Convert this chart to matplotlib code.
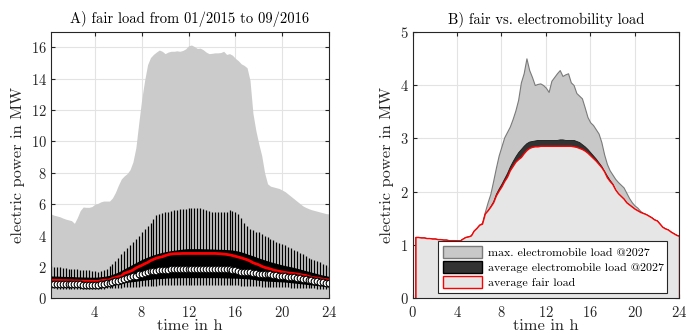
'''
    Fair load (boxplot over the day) and fair vs. electromobility load.
'''

import numpy as np
import matplotlib
matplotlib.use('Agg')
import matplotlib.pyplot as plt
from matplotlib.patches import Patch

plt.rcParams['font.family'] = ['cmr10', 'DejaVu Serif']
plt.rcParams['mathtext.fontset'] = 'cm'
plt.rcParams['axes.formatter.use_mathtext'] = True

# ============ #
# === Data === #
# ============ #

# time of day in h, 15 min steps (0.25 ... 24)
hours = np.arange(1, 97) * 0.25

# A) statistics of the fair load in MW
load_max = [5.38, 5.30, 5.25, 5.20, 5.12, 5.05, 5.00, 4.95, 4.78, 5.15, 5.60, 5.82,
            5.80, 5.80, 5.85, 6.00, 6.05, 6.15, 6.20, 6.20, 6.20, 6.40, 6.75, 7.20,
            7.60, 7.80, 7.95, 8.20, 8.70, 9.60, 11.20, 12.70, 13.90, 14.90, 15.35, 15.55,
            15.70, 15.83, 15.75, 15.60, 15.70, 15.75, 15.75, 15.78, 15.75, 15.80, 15.90, 16.10,
            16.15, 16.05, 15.93, 15.95, 15.85, 15.70, 15.60, 15.62, 15.65, 15.65, 15.67, 15.75,
            15.55, 15.60, 15.50, 15.30, 15.15, 14.95, 14.85, 14.70, 13.90, 11.80, 10.70, 9.85,
            9.10, 8.00, 7.30, 7.15, 7.10, 7.05, 7.00, 6.90, 6.80, 6.65, 6.50, 6.35,
            6.20, 6.05, 5.90, 5.80, 5.72, 5.65, 5.60, 5.55, 5.50, 5.45, 5.40, 5.38]

whisker_top = [2.05, 2.00, 1.98, 1.97, 1.95, 1.93, 1.90, 1.88, 1.85, 1.85, 1.82, 1.80,
               1.80, 1.78, 1.75, 1.72, 1.70, 1.72, 1.80, 1.90, 2.05, 2.20, 2.40, 2.60,
               2.80, 3.00, 3.20, 3.40, 3.60, 3.80, 4.00, 4.20, 4.40, 4.60, 4.80, 5.05,
               5.30, 5.40, 5.45, 5.50, 5.50, 5.55, 5.60, 5.65, 5.68, 5.70, 5.72, 5.75,
               5.75, 5.78, 5.78, 5.75, 5.72, 5.65, 5.55, 5.50, 5.50, 5.50, 5.52, 5.50,
               5.52, 5.60, 5.55, 5.50, 5.40, 5.10, 4.80, 4.60, 4.45, 4.35, 4.25, 4.20,
               4.10, 4.00, 3.90, 3.80, 3.70, 3.60, 3.50, 3.45, 3.40, 3.30, 3.20, 3.10,
               3.00, 2.90, 2.80, 2.70, 2.60, 2.50, 2.45, 2.40, 2.30, 2.20, 2.10, 2.00]

whisker_bot = [0.63, 0.63, 0.62, 0.62, 0.62, 0.61, 0.61, 0.61, 0.60, 0.60, 0.60, 0.60,
               0.60, 0.60, 0.59, 0.59, 0.60, 0.61, 0.62, 0.63, 0.64, 0.65, 0.66, 0.67,
               0.68, 0.69, 0.70, 0.71, 0.72, 0.74, 0.75, 0.76, 0.78, 0.79, 0.80, 0.80,
               0.81, 0.82, 0.82, 0.83, 0.84, 0.84, 0.85, 0.85, 0.85, 0.85, 0.86, 0.86,
               0.86, 0.86, 0.86, 0.86, 0.86, 0.86, 0.86, 0.85, 0.85, 0.85, 0.85, 0.84,
               0.84, 0.83, 0.83, 0.82, 0.82, 0.81, 0.80, 0.80, 0.79, 0.78, 0.77, 0.76,
               0.75, 0.74, 0.73, 0.72, 0.72, 0.71, 0.70, 0.70, 0.69, 0.69, 0.68, 0.68,
               0.67, 0.66, 0.66, 0.65, 0.64, 0.64, 0.63, 0.62, 0.62, 0.61, 0.60, 0.60]

q3 = [1.36, 1.35, 1.35, 1.34, 1.33, 1.33, 1.32, 1.32, 1.31, 1.30, 1.30, 1.29,
      1.29, 1.28, 1.28, 1.28, 1.29, 1.31, 1.33, 1.36, 1.40, 1.46, 1.53, 1.60,
      1.70, 1.80, 1.90, 2.00, 2.10, 2.20, 2.30, 2.40, 2.48, 2.56, 2.63, 2.70,
      2.76, 2.81, 2.86, 2.90, 2.94, 2.97, 3.00, 3.02, 3.05, 3.07, 3.09, 3.10,
      3.10, 3.10, 3.10, 3.10, 3.09, 3.09, 3.08, 3.08, 3.07, 3.06, 3.06, 3.05,
      3.04, 3.03, 3.01, 2.98, 2.94, 2.89, 2.83, 2.76, 2.70, 2.64, 2.57, 2.50,
      2.44, 2.38, 2.32, 2.26, 2.21, 2.16, 2.11, 2.06, 2.02, 1.98, 1.94, 1.90,
      1.85, 1.80, 1.75, 1.70, 1.65, 1.60, 1.55, 1.50, 1.45, 1.41, 1.37, 1.33]

q1 = [0.82, 0.82, 0.82, 0.81, 0.81, 0.81, 0.81, 0.80, 0.80, 0.80, 0.80, 0.80,
      0.80, 0.80, 0.80, 0.80, 0.81, 0.83, 0.85, 0.88, 0.91, 0.95, 0.98, 1.01,
      1.04, 1.07, 1.09, 1.11, 1.13, 1.15, 1.18, 1.20, 1.23, 1.25, 1.28, 1.30,
      1.31, 1.32, 1.33, 1.35, 1.36, 1.36, 1.37, 1.37, 1.38, 1.38, 1.38, 1.38,
      1.38, 1.38, 1.38, 1.38, 1.38, 1.38, 1.38, 1.38, 1.38, 1.38, 1.37, 1.37,
      1.36, 1.36, 1.35, 1.35, 1.34, 1.33, 1.32, 1.31, 1.29, 1.27, 1.24, 1.21,
      1.19, 1.17, 1.16, 1.15, 1.14, 1.13, 1.12, 1.11, 1.10, 1.08, 1.06, 1.04,
      1.02, 1.00, 0.98, 0.96, 0.94, 0.92, 0.90, 0.88, 0.86, 0.84, 0.81, 0.78]

median = [0.92, 0.91, 0.91, 0.90, 0.90, 0.90, 0.89, 0.89, 0.88, 0.88, 0.88, 0.87,
          0.87, 0.87, 0.86, 0.86, 0.86, 0.88, 0.91, 0.95, 0.99, 1.03, 1.08, 1.12,
          1.17, 1.22, 1.28, 1.35, 1.40, 1.45, 1.52, 1.58, 1.63, 1.68, 1.72, 1.75,
          1.76, 1.78, 1.80, 1.82, 1.83, 1.84, 1.85, 1.85, 1.86, 1.86, 1.87, 1.87,
          1.87, 1.87, 1.87, 1.87, 1.86, 1.86, 1.86, 1.86, 1.87, 1.87, 1.88, 1.88,
          1.90, 1.86, 1.82, 1.78, 1.74, 1.70, 1.69, 1.68, 1.66, 1.62, 1.60, 1.58,
          1.56, 1.54, 1.53, 1.52, 1.50, 1.48, 1.45, 1.42, 1.40, 1.38, 1.36, 1.33,
          1.30, 1.27, 1.25, 1.22, 1.19, 1.16, 1.13, 1.10, 1.06, 1.02, 0.98, 0.95]

# average fair load (also used in B)
fair_avg = [1.15, 1.15, 1.14, 1.14, 1.13, 1.13, 1.12, 1.12, 1.11, 1.11, 1.10, 1.10,
            1.09, 1.09, 1.09, 1.085, 1.085, 1.12, 1.15, 1.16, 1.18, 1.27, 1.32, 1.38,
            1.40, 1.59, 1.65, 1.72, 1.80, 1.93, 2.02, 2.10, 2.20, 2.28, 2.40, 2.48,
            2.56, 2.61, 2.65, 2.72, 2.78, 2.82, 2.84, 2.85, 2.85, 2.86, 2.86, 2.86,
            2.86, 2.86, 2.86, 2.86, 2.86, 2.86, 2.86, 2.86, 2.86, 2.85, 2.84, 2.82,
            2.80, 2.77, 2.73, 2.68, 2.63, 2.58, 2.52, 2.46, 2.38, 2.27, 2.20, 2.14,
            2.04, 1.97, 1.92, 1.87, 1.80, 1.76, 1.72, 1.68, 1.65, 1.62, 1.60, 1.58,
            1.55, 1.52, 1.48, 1.46, 1.40, 1.34, 1.31, 1.29, 1.25, 1.22, 1.19, 1.17]

# B) fair load + average electromobile load @2027
total_avg_ev = [1.15, 1.15, 1.14, 1.14, 1.13, 1.13, 1.12, 1.12, 1.11, 1.11, 1.10, 1.10,
                1.09, 1.09, 1.09, 1.085, 1.085, 1.12, 1.15, 1.16, 1.18, 1.27, 1.32, 1.38,
                1.40, 1.59, 1.65, 1.73, 1.82, 1.96, 2.06, 2.15, 2.25, 2.35, 2.47, 2.57,
                2.66, 2.74, 2.80, 2.86, 2.91, 2.94, 2.95, 2.96, 2.97, 2.97, 2.97, 2.97,
                2.97, 2.97, 2.97, 2.97, 2.98, 2.98, 2.97, 2.97, 2.97, 2.97, 2.95, 2.93,
                2.89, 2.85, 2.80, 2.74, 2.68, 2.62, 2.55, 2.48, 2.39, 2.30, 2.22, 2.15,
                2.04, 1.97, 1.92, 1.87, 1.80, 1.76, 1.72, 1.68, 1.65, 1.62, 1.60, 1.58,
                1.55, 1.52, 1.48, 1.46, 1.40, 1.34, 1.31, 1.29, 1.25, 1.22, 1.19, 1.17]

# B) fair load + max. electromobile load @2027
total_max_ev = [1.15, 1.15, 1.14, 1.14, 1.13, 1.13, 1.12, 1.12, 1.11, 1.11, 1.10, 1.10,
                1.09, 1.09, 1.09, 1.085, 1.085, 1.12, 1.15, 1.16, 1.18, 1.27, 1.32, 1.38,
                1.42, 1.62, 1.80, 1.96, 2.20, 2.45, 2.68, 2.85, 3.02, 3.12, 3.22, 3.36,
                3.52, 3.72, 4.05, 4.22, 4.50, 4.28, 4.15, 4.00, 4.02, 4.03, 4.00, 3.95,
                3.87, 4.08, 4.15, 4.22, 4.28, 4.17, 4.20, 4.22, 4.05, 4.00, 3.85, 3.80,
                3.75, 3.58, 3.40, 3.30, 3.25, 3.17, 3.09, 2.93, 2.70, 2.52, 2.40, 2.32,
                2.24, 2.18, 2.13, 2.08, 1.98, 1.88, 1.80, 1.74, 1.70, 1.64, 1.60, 1.58,
                1.55, 1.52, 1.48, 1.46, 1.40, 1.34, 1.31, 1.29, 1.25, 1.22, 1.19, 1.17]

legend_labels = ['max. electromobile load @2027',
                 'average electromobile load @2027',
                 'average fair load']

# ================ #
# === Plotting === #
# ================ #

AX_COL = '#262626'
GRID_COL = '#e3e3e3'


def style_axes(ax):
    ax.set_axisbelow(True)
    ax.grid(True, color=GRID_COL, linewidth=0.8)
    ax.tick_params(direction='in', top=True, right=True, length=3,
                   color=AX_COL, labelcolor=AX_COL, labelsize=10.5)
    ax.tick_params(axis='x', pad=5)
    ax.tick_params(axis='y', pad=3)
    for s in ax.spines.values():
        s.set_color(AX_COL)
        s.set_linewidth(0.8)
    ax.set_xlabel('time in h', fontsize=11.8, color=AX_COL, labelpad=-1)
    ax.set_ylabel('electric power in MW', fontsize=11.8, color=AX_COL, labelpad=4)


fig = plt.figure(figsize=(6.95, 3.36), dpi=100)
ax1 = fig.add_axes([0.0734, 0.1122, 0.400, 0.7935])
ax2 = fig.add_axes([0.5938, 0.1122, 0.3832, 0.7935])

# --- A) ---
ax1.fill_between(hours, 0, load_max, color='#cbcbcb', linewidth=0)
ax1.vlines(hours, whisker_bot, whisker_top, color='black', linewidth=0.9)
ax1.fill_between(hours, q1, q3, color='black', linewidth=1.5, edgecolor='black')
ax1.plot(hours, fair_avg, color='red', linewidth=2.0, solid_capstyle='butt')
ax1.plot(hours, median, linestyle='none', marker='o', markersize=4.8,
         markerfacecolor='white', markeredgecolor='black', markeredgewidth=0.8)
ax1.set_xlim(0.25, 24)
ax1.set_ylim(0, 17)
ax1.set_xticks(range(4, 25, 4))
ax1.set_yticks(range(0, 17, 2))
ax1.set_title('A) fair load from 01/2015 to 09/2016', fontsize=10.5, pad=6)
style_axes(ax1)

# --- B) ---
ax2.fill_between(hours, 0, total_max_ev, facecolor='#c8c8c8', edgecolor='#7a7a7a', linewidth=0.8)
ax2.fill_between(hours, 0, total_avg_ev, facecolor='#333333', edgecolor='#1a1a1a', linewidth=0.6)
ax2.fill_between(hours, 0, fair_avg, facecolor='#e6e6e6', edgecolor='red', linewidth=1.0)
ax2.set_xlim(0, 24)
ax2.set_ylim(0, 5)
ax2.set_xticks(range(0, 25, 4))
ax2.set_yticks(range(0, 6))
ax2.set_title('B) fair vs. electromobility load', fontsize=10.5, pad=6)
style_axes(ax2)

handles = [Patch(facecolor='#c8c8c8', edgecolor='#7a7a7a'),
           Patch(facecolor='#333333', edgecolor='black'),
           Patch(facecolor='#e6e6e6', edgecolor='red')]
leg = ax2.legend(handles, legend_labels, loc='lower left',
                 bbox_to_anchor=(0.096, 0.02, 0.858, 0.187), mode='expand',
                 fontsize=8.6, handlelength=3.3, handleheight=1.1, borderaxespad=0,
                 labelspacing=0.28, handletextpad=0.5, fancybox=False, framealpha=1)
leg.get_frame().set_edgecolor(AX_COL)
leg.get_frame().set_linewidth(0.8)

fig.savefig('out.png', dpi=100)
